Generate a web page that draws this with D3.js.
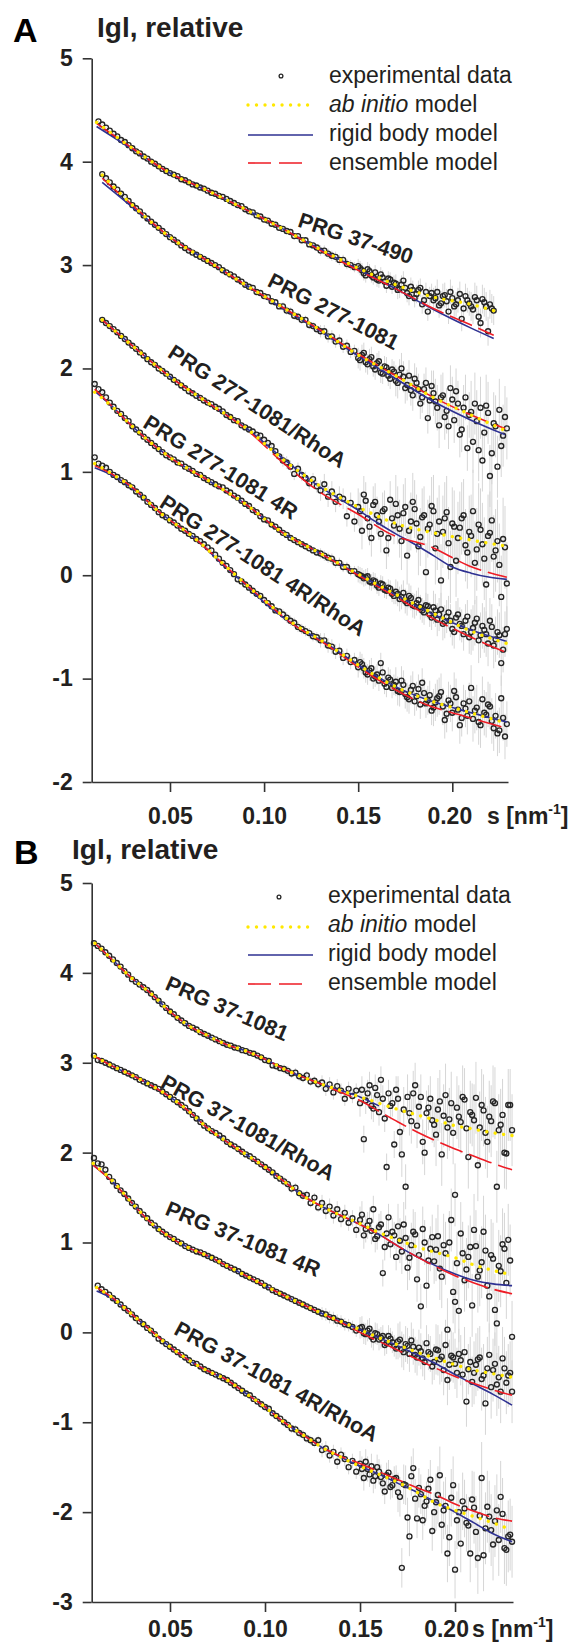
<!DOCTYPE html>
<html><head><meta charset="utf-8">
<script src="https://cdn.jsdelivr.net/npm/d3@7"></script>
<style>body{margin:0;background:#fff}svg{display:block}</style>
</head><body>
<svg id="c" width="584" height="1650"></svg>
<script>
// ---------- DATA ----------
const sGrid = [0.010,0.012,0.014,0.016,0.018,0.020,0.022,0.024,0.026,0.028,0.030,
0.032,0.034,0.036,0.038,0.040,0.042,0.044,0.046,0.048,0.050,
0.052,0.054,0.056,0.058,0.060,0.062,0.064,0.066,0.068,0.070,
0.072,0.074,0.076,0.078,0.080,0.082,0.084,0.086,0.088,0.090,
0.092,0.094,0.096,0.098,0.100,0.102,0.104,0.106,0.108,0.110,
0.112,0.114,0.116,0.118,0.120,0.122,0.124,0.126,0.128,0.130,
0.132,0.134,0.136,0.138,0.140,0.142,0.144,0.146,0.148,0.150,
0.152,0.154,0.156,0.158,0.160,0.162,0.164,0.166,0.168,0.170,
0.172,0.174,0.176,0.178,0.180,0.182,0.184,0.186,0.188,0.190,
0.192,0.194,0.196,0.198,0.200,0.202,0.204,0.206,0.208,0.210,
0.212,0.214,0.216,0.218,0.220,0.222,0.224,0.226,0.228,0.230];
// intermediate high-angle points (between main grid points)
const sGridHi = [0.151,0.153,0.155,0.157,0.159,0.161,0.163,0.165,0.167,0.169,
0.171,0.173,0.175,0.177,0.179,0.181,0.183,0.185,0.187,0.189,
0.191,0.193,0.195,0.197,0.199,0.201,0.203,0.205,0.207,0.209,
0.211,0.213,0.215,0.217,0.219,0.221,0.223,0.225,0.227,0.229];

// Panel A experimental data (log intensity, aligned to sGrid)
const a1Data = [null,4.39,4.36,4.33,4.30,4.27,4.245,4.21,4.19,4.16,4.13,
4.10,4.08,4.05,4.03,4.00,3.98,3.955,3.93,3.91,3.89,
3.875,3.86,3.83,3.82,3.80,3.78,3.77,3.75,3.74,3.72,
3.70,3.69,3.67,3.66,3.64,3.62,3.60,3.58,3.57,3.54,
3.52,3.51,3.48,3.47,3.44,3.43,3.40,3.39,3.36,3.35,
3.33,3.32,3.28,3.28,3.24,3.24,3.20,3.19,3.17,3.14,
3.14,3.11,3.09,3.08,3.05,3.05,3.01,3.00,2.98,2.99,
2.95,2.90,2.94,2.88,2.86,2.91,2.84,2.87,2.79,2.82,
2.77,2.85,2.73,2.79,2.68,2.76,2.62,2.74,2.70,2.66,
2.74,2.63,2.71,2.55,2.68,2.62,2.72,2.58,2.66,2.60,
2.69,2.50,2.67,2.60,2.62,2.56];
const a2Data = [null,null,3.88,3.84,3.80,3.76,3.73,3.69,3.66,3.62,3.58,
3.55,3.52,3.48,3.45,3.42,3.39,3.36,3.33,3.30,3.27,
3.245,3.22,3.19,3.165,3.14,3.12,3.10,3.08,3.06,3.04,
3.02,3.00,2.98,2.95,2.93,2.91,2.89,2.86,2.84,2.81,
2.79,2.78,2.74,2.73,2.70,2.69,2.65,2.64,2.60,2.60,
2.56,2.55,2.51,2.50,2.47,2.47,2.42,2.41,2.38,2.36,
2.36,2.31,2.31,2.26,2.27,2.21,2.22,2.16,2.17,2.10,
2.13,2.06,2.09,2.02,2.05,1.96,2.02,1.93,1.99,1.88,
1.94,1.92,1.84,1.79,1.90,1.80,1.72,1.86,1.69,1.76,
1.62,1.72,1.53,1.44,1.70,1.78,1.36,1.62,1.23,1.58,
1.66,1.21,1.11,1.64,0.96,1.47,1.05,1.25,1.53];
const a3Data = [null,null,2.47,2.44,2.41,2.38,2.35,2.315,2.285,2.25,2.22,
2.19,2.155,2.125,2.09,2.06,2.035,2.00,1.975,1.95,1.92,
1.89,1.865,1.835,1.81,1.78,1.76,1.735,1.715,1.69,1.67,
1.655,1.63,1.61,1.585,1.55,1.53,1.50,1.49,1.45,1.43,
1.41,1.39,1.36,1.35,1.31,1.28,1.25,1.20,1.15,1.11,
1.09,1.05,0.98,1.03,0.97,0.94,0.89,0.93,0.86,0.82,
0.88,0.76,0.81,0.71,0.76,0.74,0.57,0.70,0.52,0.66,
0.43,0.72,0.47,0.68,0.58,0.40,0.64,0.36,0.55,0.69,
0.45,0.60,0.19,0.52,0.64,0.28,0.56,0.03,0.49,0.62,
0.40,-0.05,0.55,0.31,0.50,0.14,0.46,0.58,0.22,0.38,
0.12,0.49,0.30,-0.09,0.41,0.18,0.33,-0.21,0.27];
const a4Data = [1.85,1.80,1.77,1.72,1.67,1.63,1.59,1.56,1.52,1.49,1.44,
1.41,1.38,1.34,1.31,1.28,1.25,1.22,1.19,1.16,1.14,
1.12,1.09,1.08,1.05,1.03,1.01,0.98,0.97,0.94,0.92,
0.90,0.88,0.86,0.85,0.82,0.80,0.77,0.75,0.72,0.69,
0.67,0.63,0.61,0.57,0.54,0.53,0.49,0.47,0.44,0.41,
0.39,0.36,0.34,0.32,0.30,0.28,0.26,0.24,0.22,0.21,
0.19,0.17,0.16,0.12,0.12,0.08,0.08,0.04,0.04,0.01,
-0.01,-0.02,-0.06,-0.05,-0.10,-0.08,-0.14,-0.12,-0.18,-0.16,
-0.23,-0.17,-0.27,-0.22,-0.30,-0.24,-0.34,-0.29,-0.38,-0.31,
-0.43,-0.33,-0.45,-0.36,-0.52,-0.41,-0.47,-0.57,-0.40,-0.55,
-0.46,-0.63,-0.49,-0.57,-0.44,-0.68,-0.55,-0.85,-0.57];
const a5Data = [1.14,1.08,1.06,1.04,1.00,0.97,0.95,0.92,0.90,0.87,0.85,
0.81,0.78,0.75,0.71,0.68,0.65,0.61,0.58,0.56,0.53,
0.51,0.48,0.45,0.43,0.40,0.38,0.35,0.33,0.30,0.27,
0.24,0.20,0.16,0.12,0.09,0.05,0.01,-0.04,-0.06,-0.09,
-0.12,-0.15,-0.18,-0.20,-0.24,-0.27,-0.30,-0.34,-0.35,-0.38,
-0.41,-0.44,-0.46,-0.50,-0.52,-0.54,-0.56,-0.59,-0.60,-0.63,
-0.63,-0.68,-0.69,-0.74,-0.73,-0.80,-0.78,-0.84,-0.82,-0.89,
-0.86,-0.94,-0.92,-1.00,-0.96,-0.85,-1.05,-0.99,-1.09,-1.03,
-1.13,-1.06,-1.18,-1.11,-1.22,-1.10,-1.04,-1.24,-1.16,-1.28,
-1.19,-1.13,-1.40,-1.21,-1.33,-1.18,-1.45,-1.24,-1.36,-1.09,
-1.31,-1.42,-1.20,-1.35,-1.27,-1.48,-1.53,-1.19,-1.56];
// Panel A extra high-angle points (aligned to sGridHi)
const a1DataHi = [2.97,2.92,2.96,2.90,2.93,2.85,2.88,2.80,2.86,2.83,2.76,2.81,2.78,2.70,2.76,2.72,2.78,2.66,2.55,2.73,
2.68,2.61,2.70,2.65,2.74,2.60,2.66,2.48,2.70,2.63,2.57,2.66,2.44,2.64,2.36,2.58];
const a2DataHi = [2.08,2.15,2.04,2.11,1.99,2.07,1.95,2.01,1.90,1.97,1.86,2.00,1.81,1.93,1.74,1.86,1.66,1.80,1.52,1.83,
1.68,1.45,1.74,1.59,1.81,1.50,1.66,1.41,1.72,1.55,1.29,1.49,1.62,1.38,1.57,1.18,1.44,1.60,1.35,1.42];
const a3DataHi = [0.62,0.78,0.55,0.36,0.71,0.52,0.62,0.24,0.73,0.48,0.58,0.33,0.66,0.43,0.71,0.50,0.37,0.58,0.45,0.67,
0.26,0.52,0.42,0.61,0.08,0.47,0.36,0.55,0.29,0.42,0.62,0.25,0.44,0.16,0.38,0.53,0.24,0.10,0.35,-0.08];
const a4DataHi = [0.00,-0.03,-0.01,-0.07,-0.06,-0.12,-0.09,-0.15,-0.13,-0.20,-0.18,-0.21,-0.25,-0.20,-0.29,-0.27,-0.31,-0.36,-0.30,-0.41,
-0.34,-0.38,-0.47,-0.40,-0.44,-0.55,-0.38,-0.49,-0.44,-0.60,-0.51,-0.42,-0.58,-0.53,-0.66,-0.50,-0.62,-0.58,-0.72,-0.52];
const a5DataHi = [-0.84,-0.90,-0.96,-0.90,-0.98,-1.02,-0.94,-1.08,-1.01,-1.06,-1.12,-1.02,-1.15,-1.20,-1.07,-1.17,-1.25,-1.14,-1.21,-1.31,
-1.23,-1.17,-1.27,-1.34,-1.24,-1.12,-1.30,-1.38,-1.29,-1.22,-1.39,-1.28,-1.45,-1.33,-1.25,-1.41,-1.36,-1.50,-1.38,-1.44];

// Panel B experimental data
const b1Data = [4.33,4.30,4.27,4.23,4.19,4.15,4.11,4.07,4.02,3.98,3.93,
3.90,3.87,3.84,3.81,3.77,3.73,3.69,3.65,3.61,3.57,
3.54,3.50,3.47,3.44,3.41,3.39,3.37,3.34,3.32,3.30,
3.28,3.26,3.24,3.22,3.20,3.19,3.17,3.16,3.14,3.13,
3.11,3.10,3.08,3.06,3.03,3.02,2.97,2.96,2.94,2.93,
2.91,2.88,2.89,2.85,2.83,2.86,2.79,2.80,2.76,2.78,
2.71,2.76,2.67,2.74,2.69,2.60,2.71,2.63,2.69,2.55,
2.15,2.66,2.52,2.72,2.45,2.60,1.84,2.52,2.09,2.60,
1.98,1.62,2.44,2.66,2.30,2.62,2.00,2.50,2.36,2.20,
2.57,2.41,2.28,2.55,1.53,2.40,2.62,2.27,2.45,2.36,
1.86,2.53,2.22,2.40,2.57,1.62,2.31,2.00,2.53,2.25];
const b2Data = [3.08,3.03,3.02,3.00,2.98,2.96,2.94,2.92,2.90,2.88,2.86,
2.84,2.81,2.79,2.77,2.75,2.73,2.71,2.68,2.65,2.62,
2.59,2.56,2.53,2.50,2.46,2.42,2.38,2.34,2.30,2.27,
2.24,2.22,2.19,2.16,2.12,2.09,2.07,2.04,2.01,1.98,
1.96,1.93,1.90,1.87,1.84,1.81,1.78,1.74,1.71,1.68,
1.65,1.60,1.61,1.55,1.52,1.53,1.44,1.50,1.39,1.44,
1.35,1.40,1.30,1.37,1.26,1.33,1.22,1.27,1.14,1.25,
1.08,1.19,1.13,1.04,1.17,0.66,1.10,0.98,1.08,1.18,
0.90,1.05,0.83,1.12,0.59,0.29,1.00,0.80,1.06,0.92,
0.71,0.97,0.03,1.25,0.34,0.24,0.88,0.70,0.95,1.14,
0.62,0.78,0.91,0.40,0.82,0.10,0.68,0.93,1.03,-0.05];
const b3Data = [1.94,1.88,1.87,1.81,1.73,1.68,1.63,1.58,1.54,1.49,1.44,
1.40,1.35,1.31,1.27,1.22,1.19,1.15,1.12,1.09,1.06,
1.04,1.01,0.99,0.96,0.94,0.92,0.90,0.89,0.87,0.85,
0.83,0.81,0.79,0.76,0.74,0.72,0.70,0.68,0.65,0.63,
0.61,0.59,0.57,0.55,0.52,0.50,0.47,0.45,0.43,0.41,
0.39,0.37,0.35,0.33,0.31,0.29,0.27,0.25,0.23,0.21,
0.20,0.17,0.16,0.13,0.12,0.09,0.08,0.06,0.02,0.05,
-0.01,0.02,-0.05,-0.01,-0.08,-0.04,-0.12,-0.07,-0.15,-0.10,
-0.19,-0.13,-0.24,-0.16,-0.28,-0.21,-0.33,-0.22,-0.38,-0.19,
-0.30,-0.42,-0.53,-0.26,-0.35,-0.24,-0.47,-0.77,-0.33,-0.45,
-0.30,-0.52,-0.79,-0.25,-0.42,-0.58,-0.66,-0.40,-0.48,-0.66];
const b4Data = [null,0.52,0.48,0.45,0.42,0.38,0.35,0.31,0.27,0.24,0.20,
0.16,0.12,0.09,0.05,0.02,-0.02,-0.07,-0.10,-0.13,-0.16,
-0.19,-0.22,-0.25,-0.28,-0.31,-0.34,-0.35,-0.38,-0.41,-0.43,
-0.45,-0.47,-0.49,-0.51,-0.53,-0.56,-0.59,-0.62,-0.65,-0.68,
-0.70,-0.74,-0.77,-0.80,-0.83,-0.85,-0.90,-0.93,-0.96,-1.00,
-1.03,-1.07,-1.08,-1.12,-1.14,-1.18,-1.20,-1.23,-1.20,-1.31,
-1.29,-1.37,-1.33,-1.44,-1.36,-1.41,-1.50,-1.43,-1.55,-1.46,
-1.62,-1.52,-1.49,-1.60,-1.55,-1.68,-1.59,-1.72,-1.63,-1.78,
-2.62,-1.70,-2.27,-1.51,-2.07,-1.80,-1.93,-1.74,-2.21,-1.89,
-1.59,-1.98,-2.46,-1.84,-2.64,-2.00,-1.88,-2.12,-2.46,-1.95,
-2.51,-1.62,-2.18,-2.05,-2.36,-1.98,-1.83,-2.40,-2.27,-2.33];
// Panel B extra high-angle points (aligned to sGridHi)
const b1DataHi = [2.70,2.58,2.75,2.49,2.64,2.81,2.38,2.66,2.55,2.70,2.23,2.48,2.62,2.35,2.75,2.51,2.12,2.44,2.60,2.31,
2.48,1.98,2.64,2.37,2.22,2.50,2.34,2.59,1.95,2.42,2.61,2.28,2.47,2.12,2.35,2.55,2.25,2.42,1.99,2.53];
const b2DataHi = [1.31,1.15,1.24,1.37,1.07,1.20,0.95,1.28,1.12,0.84,1.02,1.20,0.72,0.97,1.09,0.86,1.15,0.52,0.93,0.79,
1.07,0.62,0.88,1.00,0.45,0.77,1.10,0.58,0.84,0.30,0.96,0.69,1.12,0.52,0.86,0.25,0.74,0.98,0.55,0.80];
const b3DataHi = [0.06,-0.02,0.04,-0.08,-0.02,-0.06,-0.14,-0.04,-0.11,-0.18,-0.08,-0.22,-0.15,-0.09,-0.25,-0.17,-0.29,-0.12,-0.24,-0.33,
-0.20,-0.27,-0.14,-0.36,-0.28,-0.45,-0.31,-0.22,-0.41,-0.55,-0.36,-0.28,-0.48,-0.40,-0.61,-0.35,-0.50,-0.29,-0.56,-0.45];
const b4DataHi = [-1.52,-1.44,-1.58,-1.65,-1.50,-1.61,-1.77,-1.56,-1.70,-1.62,-1.83,-1.69,-2.06,-1.60,-1.85,-1.73,-2.09,-1.88,-1.64,-2.00,
-1.81,-2.14,-1.93,-2.28,-1.70,-2.09,-2.35,-1.96,-2.15,-1.86,-2.22,-2.04,-2.48,-1.94,-2.20,-2.10,-2.31,-2.02,-2.42,-2.25];

// error bar half-lengths per s-bin
const errEdges = [0.010,0.060,0.090,0.110,0.130,0.150,0.170,0.190,0.210];
const a1Err = [0.01,0.015,0.02,0.03,0.05,0.07,0.09,0.12,0.14];
const a2Err = [0.01,0.015,0.025,0.04,0.06,0.10,0.15,0.22,0.30];
const a3Err = [0.01,0.02,0.03,0.06,0.10,0.18,0.28,0.35,0.40];
const a4Err = [0.01,0.015,0.02,0.03,0.05,0.08,0.12,0.16,0.22];
const a5Err = [0.01,0.02,0.03,0.05,0.07,0.10,0.14,0.18,0.22];
const b1Err = [0.01,0.02,0.03,0.05,0.08,0.15,0.25,0.35,0.40];
const b2Err = [0.01,0.02,0.03,0.05,0.09,0.15,0.25,0.35,0.40];
const b3Err = [0.01,0.015,0.025,0.04,0.07,0.12,0.20,0.28,0.35];
const b4Err = [0.01,0.02,0.03,0.05,0.08,0.14,0.22,0.32,0.40];

// model curves: [s, log I]
const a1Ab = [[0.011,4.38],[0.03,4.13],[0.05,3.89],[0.07,3.72],[0.09,3.54],[0.11,3.35],[0.13,3.15],[0.15,2.97],[0.17,2.81],[0.19,2.69],[0.21,2.62],[0.222,2.56]];
const a1Rigid = [[0.011,4.34],[0.03,4.12],[0.05,3.89],[0.07,3.72],[0.09,3.54],[0.11,3.35],[0.13,3.15],[0.15,2.96],[0.17,2.77],[0.19,2.57],[0.21,2.39],[0.222,2.29]];
const a1Ens = [[0.011,4.37],[0.03,4.13],[0.05,3.89],[0.07,3.72],[0.09,3.54],[0.11,3.35],[0.13,3.14],[0.15,2.95],[0.17,2.77],[0.19,2.58],[0.21,2.42],[0.222,2.32]];
const a2Ab = [[0.014,3.87],[0.03,3.58],[0.05,3.27],[0.07,3.04],[0.09,2.81],[0.11,2.59],[0.13,2.37],[0.15,2.13],[0.17,1.93],[0.19,1.72],[0.21,1.55],[0.228,1.40]];
const a2Rigid = [[0.014,3.80],[0.03,3.56],[0.05,3.27],[0.07,3.04],[0.09,2.81],[0.11,2.58],[0.13,2.36],[0.15,2.12],[0.17,1.90],[0.19,1.68],[0.21,1.50],[0.228,1.36]];
const a2Ens = [[0.014,3.84],[0.03,3.58],[0.05,3.27],[0.07,3.04],[0.09,2.81],[0.11,2.59],[0.13,2.37],[0.15,2.14],[0.17,1.93],[0.19,1.72],[0.21,1.55],[0.228,1.42]];
const a3Ab = [[0.014,2.47],[0.03,2.22],[0.05,1.92],[0.07,1.67],[0.09,1.43],[0.11,1.12],[0.13,0.86],[0.15,0.66],[0.17,0.50],[0.19,0.41],[0.21,0.34],[0.229,0.28]];
const a3Rigid = [[0.014,2.47],[0.03,2.22],[0.05,1.92],[0.07,1.67],[0.09,1.43],[0.11,1.13],[0.13,0.85],[0.14,0.74],[0.15,0.63],[0.16,0.51],[0.17,0.40],[0.18,0.30],[0.19,0.19],[0.20,0.08],[0.21,0.02],[0.22,-0.02],[0.229,-0.04]];
const a3Ens = [[0.014,2.47],[0.03,2.22],[0.05,1.92],[0.07,1.67],[0.09,1.42],[0.11,1.09],[0.13,0.80],[0.15,0.59],[0.167,0.40],[0.188,0.28],[0.209,0.09],[0.229,-0.02]];
const a4Ab = [[0.010,1.77],[0.02,1.62],[0.03,1.44],[0.05,1.14],[0.07,0.92],[0.09,0.69],[0.11,0.41],[0.13,0.21],[0.15,0.01],[0.17,-0.185],[0.19,-0.37],[0.21,-0.54],[0.229,-0.66]];
const a4Rigid = [[0.010,1.78],[0.02,1.62],[0.03,1.44],[0.05,1.14],[0.07,0.92],[0.09,0.69],[0.11,0.41],[0.13,0.21],[0.15,0.01],[0.17,-0.19],[0.19,-0.38],[0.21,-0.53],[0.229,-0.64]];
const a4Ens = [[0.010,1.80],[0.02,1.62],[0.03,1.44],[0.05,1.14],[0.07,0.92],[0.09,0.69],[0.11,0.41],[0.13,0.21],[0.15,0.0],[0.17,-0.21],[0.19,-0.42],[0.21,-0.60],[0.229,-0.75]];
const a5Ab = [[0.010,1.08],[0.02,0.97],[0.03,0.85],[0.045,0.60],[0.0624,0.37],[0.08,0.08],[0.098,-0.21],[0.115,-0.46],[0.133,-0.66],[0.151,-0.88],[0.169,-1.07],[0.186,-1.20],[0.204,-1.30],[0.229,-1.43]];
const a5Rigid = [[0.010,1.04],[0.02,0.96],[0.03,0.84],[0.045,0.60],[0.0624,0.37],[0.08,0.07],[0.09,-0.09],[0.098,-0.23],[0.115,-0.47],[0.133,-0.66],[0.151,-0.88],[0.169,-1.07],[0.186,-1.20],[0.204,-1.30],[0.229,-1.42]];
const a5Ens = [[0.010,1.06],[0.02,0.97],[0.03,0.85],[0.045,0.60],[0.0624,0.37],[0.08,0.08],[0.098,-0.21],[0.115,-0.47],[0.133,-0.67],[0.151,-0.90],[0.169,-1.10],[0.186,-1.25],[0.204,-1.35],[0.229,-1.48]];

const b1Ab = [[0.0105,4.33],[0.02,4.14],[0.03,3.94],[0.04,3.77],[0.05,3.57],[0.06,3.41],[0.07,3.30],[0.08,3.20],[0.09,3.13],[0.10,3.04],[0.11,2.93],[0.12,2.84],[0.13,2.76],[0.14,2.69],[0.15,2.62],[0.16,2.55],[0.17,2.48],[0.18,2.42],[0.19,2.36],[0.20,2.30],[0.21,2.26],[0.22,2.22],[0.23,2.19]];
const b1Rigid = [[0.0105,4.33],[0.02,4.14],[0.03,3.94],[0.04,3.77],[0.05,3.57],[0.06,3.41],[0.07,3.30],[0.08,3.20],[0.09,3.13],[0.10,3.04],[0.11,2.93],[0.12,2.84],[0.13,2.76],[0.14,2.69],[0.15,2.62],[0.16,2.52]];
const b1Ens = [[0.0105,4.33],[0.02,4.14],[0.03,3.94],[0.04,3.77],[0.05,3.57],[0.06,3.41],[0.07,3.30],[0.08,3.20],[0.09,3.13],[0.10,3.04],[0.11,2.93],[0.12,2.84],[0.13,2.76],[0.14,2.67],[0.15,2.58],[0.16,2.46],[0.17,2.34],[0.18,2.23],[0.19,2.13],[0.20,2.04],[0.21,1.96],[0.22,1.88],[0.23,1.81]];
const b2Ab = [[0.0105,3.07],[0.02,2.96],[0.03,2.86],[0.04,2.75],[0.05,2.62],[0.06,2.46],[0.07,2.27],[0.08,2.12],[0.09,1.98],[0.10,1.84],[0.11,1.68],[0.12,1.52],[0.13,1.40],[0.14,1.30],[0.15,1.21],[0.16,1.11],[0.17,1.03],[0.18,0.95],[0.19,0.89],[0.20,0.83],[0.21,0.75],[0.22,0.69],[0.23,0.64]];
const b2Rigid = [[0.0105,3.07],[0.02,2.96],[0.03,2.86],[0.04,2.75],[0.05,2.62],[0.06,2.46],[0.07,2.27],[0.08,2.12],[0.09,1.98],[0.10,1.84],[0.11,1.68],[0.12,1.52],[0.13,1.40],[0.14,1.30],[0.15,1.20],[0.16,1.09],[0.17,0.96],[0.18,0.84],[0.19,0.74],[0.20,0.65],[0.21,0.58],[0.22,0.54],[0.23,0.52]];
const b2Ens = [[0.0105,3.07],[0.02,2.96],[0.03,2.86],[0.04,2.75],[0.05,2.62],[0.06,2.46],[0.07,2.27],[0.08,2.12],[0.09,1.98],[0.10,1.84],[0.11,1.68],[0.12,1.52],[0.13,1.40],[0.14,1.30],[0.15,1.20],[0.16,1.09],[0.17,0.96],[0.18,0.84],[0.19,0.73],[0.20,0.63],[0.21,0.55],[0.22,0.48],[0.23,0.43]];
const b3Ab = [[0.0096,1.88],[0.02,1.68],[0.03,1.44],[0.04,1.22],[0.05,1.06],[0.06,0.94],[0.07,0.85],[0.08,0.74],[0.09,0.63],[0.10,0.52],[0.11,0.41],[0.12,0.31],[0.13,0.21],[0.14,0.12],[0.15,0.03],[0.16,-0.06],[0.17,-0.14],[0.18,-0.22],[0.19,-0.29],[0.20,-0.36],[0.21,-0.42],[0.22,-0.46],[0.23,-0.50]];
const b3Rigid = [[0.0096,1.86],[0.02,1.67],[0.03,1.44],[0.04,1.22],[0.05,1.06],[0.06,0.94],[0.07,0.85],[0.08,0.74],[0.09,0.63],[0.10,0.52],[0.11,0.41],[0.12,0.31],[0.13,0.21],[0.14,0.12],[0.15,0.03],[0.16,-0.06],[0.17,-0.15],[0.18,-0.25],[0.19,-0.35],[0.20,-0.47],[0.21,-0.58],[0.22,-0.69],[0.23,-0.81]];
const b3Ens = [[0.0096,1.86],[0.02,1.67],[0.03,1.44],[0.04,1.22],[0.05,1.06],[0.06,0.94],[0.07,0.85],[0.08,0.74],[0.09,0.63],[0.10,0.52],[0.11,0.41],[0.12,0.31],[0.13,0.21],[0.14,0.11],[0.15,0.0],[0.16,-0.10],[0.17,-0.20],[0.18,-0.30],[0.19,-0.40],[0.20,-0.49],[0.21,-0.57],[0.22,-0.64],[0.23,-0.70]];
const b4Ab = [[0.0114,0.50],[0.02,0.38],[0.03,0.20],[0.04,0.02],[0.05,-0.16],[0.06,-0.31],[0.07,-0.43],[0.08,-0.53],[0.09,-0.68],[0.10,-0.83],[0.11,-1.00],[0.12,-1.14],[0.13,-1.28],[0.14,-1.39],[0.15,-1.49],[0.16,-1.58],[0.17,-1.67],[0.18,-1.78],[0.19,-1.90],[0.20,-1.98],[0.21,-2.05],[0.22,-2.12],[0.23,-2.20]];
const b4Rigid = [[0.0114,0.46],[0.02,0.37],[0.03,0.20],[0.04,0.02],[0.05,-0.16],[0.06,-0.31],[0.07,-0.43],[0.08,-0.53],[0.09,-0.68],[0.10,-0.83],[0.11,-1.00],[0.12,-1.14],[0.13,-1.28],[0.14,-1.39],[0.15,-1.49],[0.16,-1.58],[0.17,-1.68],[0.18,-1.78],[0.19,-1.89],[0.20,-2.00],[0.21,-2.12],[0.22,-2.24],[0.23,-2.33]];
const b4Ens = [[0.0114,0.50],[0.02,0.38],[0.03,0.20],[0.04,0.02],[0.05,-0.16],[0.06,-0.31],[0.07,-0.43],[0.08,-0.53],[0.09,-0.68],[0.10,-0.83],[0.11,-1.00],[0.12,-1.14],[0.13,-1.28],[0.14,-1.38],[0.15,-1.46],[0.16,-1.55],[0.17,-1.64],[0.18,-1.73],[0.19,-1.81],[0.20,-1.91],[0.21,-1.99],[0.22,-2.06],[0.23,-2.10]];

const labelsA = ["PRG 37-490","PRG 277-1081","PRG 277-1081/RhoA","PRG 277-1081 4R","PRG 277-1081 4R/RhoA"];
const labelsB = ["PRG 37-1081","PRG 37-1081/RhoA","PRG 37-1081 4R","PRG 37-1081 4R/RhoA"];
const yTicksA = [5,4,3,2,1,0,-1,-2];
const yTicksB = [5,4,3,2,1,0,-1,-2,-3];
const xTicks = [0.05,0.10,0.15,0.20];
const legendItems = ["experimental data","ab initio model","rigid body model","ensemble model"];

// ---------- LAYOUT ----------
const FONT = "'Liberation Sans', Arial, Helvetica, sans-serif";
const INK = "#231f20";
const C_YEL = "#ffe800", C_BLUE = "#2e3192", C_RED = "#ee1c25";
const svg = d3.select('#c').style('font-family', FONT);

const panels = [
  { letter:"A", letterPos:[13,42], titlePos:[97,37],
    xDomain:[0.0084,0.2296], xRange:[91.7,508], yDomain:[-2,5], yRange:[782,58.3],
    yTicks:yTicksA, xLabelY:42, x20dx:-3, unitPos:[487,824],
    legend:{dot:[281,76], lineY:[105,135,163], textX:329, textY:[83,112,141,170]},
    curves:[
      {data:a1Data, hi:a1DataHi, err:a1Err, ab:a1Ab, rigid:a1Rigid, ens:a1Ens},
      {data:a2Data, hi:a2DataHi, err:a2Err, ab:a2Ab, rigid:a2Rigid, ens:a2Ens},
      {data:a3Data, hi:a3DataHi, err:a3Err, ab:a3Ab, rigid:a3Rigid, ens:a3Ens},
      {data:a4Data, hi:a4DataHi, err:a4Err, ab:a4Ab, rigid:a4Rigid, ens:a4Ens},
      {data:a5Data, hi:a5DataHi, err:a5Err, ab:a5Ab, rigid:a5Rigid, ens:a5Ens}],
    labels:labelsA,
    labelPos:[[296.8,226.3,18.5],[266.3,285.4,27],[166.6,356.2,33],[141.8,426.4,32],[158.3,506.2,33]] },
  { letter:"B", letterPos:[14,864], titlePos:[72,859],
    xDomain:[0.0088,0.2305], xRange:[91.7,513], yDomain:[-3,5], yRange:[1602,883],
    yTicks:yTicksB, xLabelY:35, x20dx:-9, unitPos:[472,1637],
    legend:{dot:[279,897], lineY:[927,955,984], textX:328, textY:[903,932,961,990]},
    curves:[
      {data:b1Data, hi:b1DataHi, err:b1Err, ab:b1Ab, rigid:b1Rigid, ens:b1Ens},
      {data:b2Data, hi:b2DataHi, err:b2Err, ab:b2Ab, rigid:b2Rigid, ens:b2Ens},
      {data:b3Data, hi:b3DataHi, err:b3Err, ab:b3Ab, rigid:b3Rigid, ens:b3Ens},
      {data:b4Data, hi:b4DataHi, err:b4Err, ab:b4Ab, rigid:b4Rigid, ens:b4Ens}],
    labels:labelsB,
    labelPos:[[163.9,989.1,23.5],[159.2,1086.8,29],[164.1,1214.2,22.5],[172.7,1333.5,28.5]] }
];

function errFor(errArr, s){ return errArr[Math.max(0, d3.bisectRight(errEdges, s) - 1)]; }

panels.forEach(P => {
  const x = d3.scaleLinear().domain(P.xDomain).range(P.xRange);
  const y = d3.scaleLinear().domain(P.yDomain).range(P.yRange);
  const g = svg.append('g');

  // titles
  g.append('text').attr('x',P.letterPos[0]).attr('y',P.letterPos[1]).text(P.letter)
    .attr('font-size',34).attr('font-weight','bold').attr('fill','#000');
  g.append('text').attr('x',P.titlePos[0]).attr('y',P.titlePos[1]).text('Igl, relative')
    .attr('font-size',28).attr('font-weight','bold').attr('fill',INK);

  const pointSets = P.curves.map(c => {
    const main = sGrid.map((s,i)=>({s, v:c.data[i], e:errFor(c.err,s)}));
    const hi = c.hi.map((v,i)=>({s:sGridHi[i], v, e:errFor(c.err,sGridHi[i])}));
    return main.concat(hi).filter(p=>p.v!=null);
  });

  // error bars
  const eg = g.append('g').attr('stroke','#d6d6d6').attr('stroke-width',1);
  pointSets.forEach(pts => {
    eg.append('g').selectAll('line').data(pts).join('line')
      .attr('x1',p=>x(p.s)).attr('x2',p=>x(p.s))
      .attr('y1',p=>y(p.v+p.e)).attr('y2',p=>y(p.v-p.e));
  });

  // axes
  const ya = g.append('g').attr('transform',`translate(${P.xRange[0]},0)`)
    .call(d3.axisLeft(y).tickValues(P.yTicks).tickSize(9).tickSizeOuter(0).tickPadding(10).tickFormat(d=>String(d)));
  const xa = g.append('g').attr('transform',`translate(0,${P.yRange[0]})`)
    .call(d3.axisBottom(x).tickValues(xTicks).tickSize(10).tickSizeOuter(0).tickFormat(d3.format('.2f')));
  [ya,xa].forEach(a => {
    a.selectAll('.domain,.tick line').attr('stroke','#333').attr('stroke-width',1.6);
    a.selectAll('text').attr('font-size',23).attr('font-weight','bold').attr('fill',INK).attr('font-family',FONT);
  });
  xa.selectAll('text').attr('y',P.xLabelY).attr('dy',null)
    .attr('dx', d => d===0.20 ? P.x20dx : 0);

  // unit label
  const ut = g.append('text').attr('x',P.unitPos[0]).attr('y',P.unitPos[1])
    .attr('font-size',23).attr('font-weight','bold').attr('fill',INK);
  ut.append('tspan').text('s [nm');
  ut.append('tspan').attr('dy',-10).attr('font-size',14).text('-1');
  ut.append('tspan').attr('dy',10).text(']');

  // data circles
  const cg = g.append('g').attr('fill','none').attr('stroke','#262626').attr('stroke-width',1.35);
  pointSets.forEach(pts => {
    cg.append('g').selectAll('circle').data(pts).join('circle')
      .attr('cx',p=>x(p.s)).attr('cy',p=>y(p.v)).attr('r',2.5);
  });

  // model lines
  const line = d3.line().x(d=>x(d[0])).y(d=>y(d[1])).curve(d3.curveMonotoneX);
  P.curves.forEach(c => {
    g.append('path').attr('d',line(c.rigid)).attr('fill','none').attr('stroke',C_BLUE).attr('stroke-width',1.6);
  });
  P.curves.forEach(c => {
    g.append('path').attr('d',line(c.ens)).attr('fill','none').attr('stroke',C_RED).attr('stroke-width',1.6).attr('stroke-dasharray','24,7');
  });
  P.curves.forEach(c => {
    g.append('path').attr('d',line(c.ab)).attr('fill','none').attr('stroke',C_YEL).attr('stroke-width',3.4)
      .attr('stroke-linecap','round').attr('stroke-dasharray','0.01,8.5');
  });

  // curve labels
  P.labels.forEach((t,i) => {
    const [lx,ly,ang] = P.labelPos[i];
    g.append('text').attr('transform',`translate(${lx},${ly}) rotate(${ang})`)
      .attr('font-size',21.5).attr('font-weight','bold').attr('fill',INK).text(t);
  });

  // legend
  const L = P.legend;
  const lg = g.append('g');
  lg.append('circle').attr('cx',L.dot[0]).attr('cy',L.dot[1]).attr('r',1.9).attr('fill','none').attr('stroke','#262626').attr('stroke-width',1.3);
  lg.append('line').attr('x1',248).attr('x2',310).attr('y1',L.lineY[0]).attr('y2',L.lineY[0])
    .attr('stroke',C_YEL).attr('stroke-width',3.4).attr('stroke-linecap','round').attr('stroke-dasharray','0.01,8.5');
  lg.append('line').attr('x1',248).attr('x2',313).attr('y1',L.lineY[1]).attr('y2',L.lineY[1])
    .attr('stroke',C_BLUE).attr('stroke-width',1.6);
  lg.append('line').attr('x1',248).attr('x2',303).attr('y1',L.lineY[2]).attr('y2',L.lineY[2])
    .attr('stroke',C_RED).attr('stroke-width',1.6).attr('stroke-dasharray','23,8');
  legendItems.forEach((t,i) => {
    const tx = lg.append('text').attr('x',L.textX).attr('y',L.textY[i]).attr('font-size',23).attr('fill',INK);
    if (i===1) { tx.append('tspan').attr('font-style','italic').text('ab initio'); tx.append('tspan').text(' model'); }
    else tx.text(t);
  });
});
</script>
</body></html>
